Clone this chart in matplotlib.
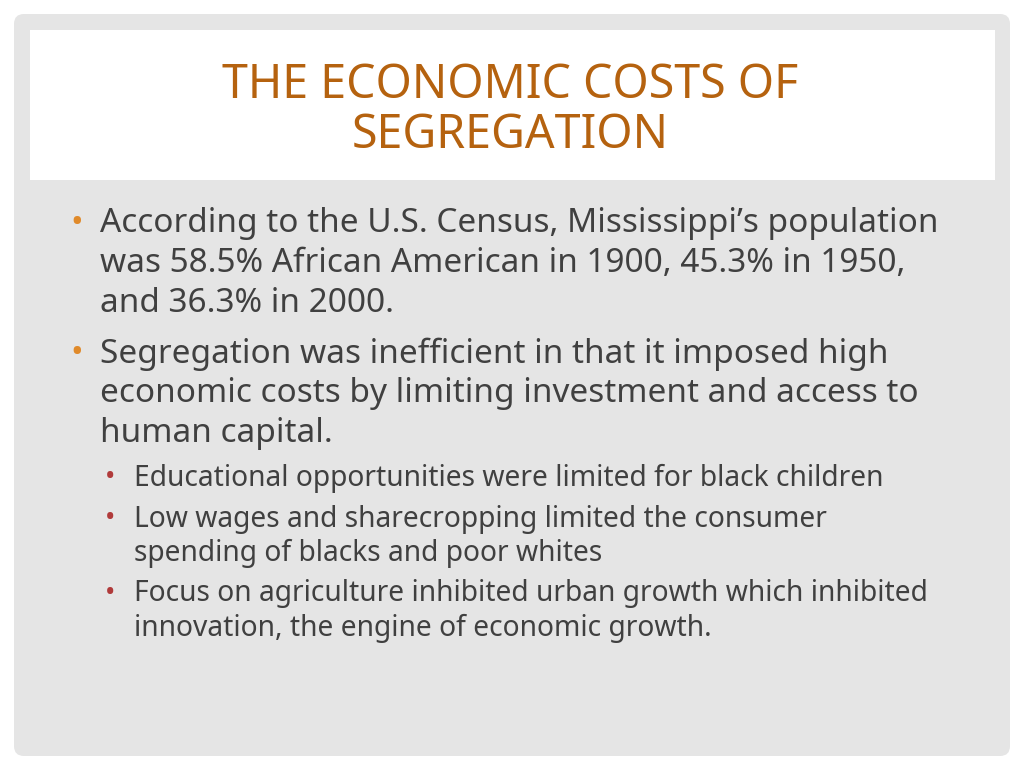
import matplotlib
matplotlib.use("Agg")
import matplotlib.pyplot as plt
from matplotlib.patches import FancyBboxPatch, Rectangle

title_lines = ["THE ECONOMIC COSTS OF", "SEGREGATION"]
bullets1 = [
    ["According to the U.S. Census, Mississippi\u2019s population",
     "was 58.5% African American in 1900, 45.3% in 1950,",
     "and 36.3% in 2000."],
    ["Segregation was inefficient in that it imposed high",
     "economic costs by limiting investment and access to",
     "human capital."],
]
bullets2 = [
    ["Educational opportunities were limited for black children"],
    ["Low wages and sharecropping limited the consumer",
     "spending of blacks and poor whites"],
    ["Focus on agriculture inhibited urban growth which inhibited",
     "innovation, the engine of economic growth."],
]

plt.rcParams['font.family'] = ['Noto Sans', 'DejaVu Sans']
fig = plt.figure(figsize=(10.24, 7.68), dpi=100)
ax = fig.add_axes([0, 0, 1, 1])
ax.set_xlim(0, 1024); ax.set_ylim(768, 0); ax.axis('off')

ax.add_patch(FancyBboxPatch((14, 14), 996, 742, boxstyle="round,pad=0,rounding_size=10",
                            fc="#e5e5e5", ec="none"))
ax.add_patch(Rectangle((30, 30), 965, 150, fc="white", ec="none"))

tc = "#b5620f"
for i, t in enumerate(title_lines):
    ax.text(510, 85 + i * 50, t, color=tc, fontsize=33.5, ha='center', va='center')

txt = "#404040"
y = 224
for b in bullets1:
    ax.text(70, y, "\u2022", color="#e08a2a", fontsize=24, ha='left', va='center')
    for line in b:
        ax.text(100, y, line, color=txt, fontsize=24, ha='left', va='center')
        y += 40
    y += 10
y = 478
for b in bullets2:
    ax.text(105, y, "\u2022", color="#b03a3a", fontsize=20, ha='left', va='center')
    for line in b:
        ax.text(134, y, line, color=txt, fontsize=20.3, ha='left', va='center')
        y += 34
    y += 7

fig.savefig("out.png", dpi=100)
